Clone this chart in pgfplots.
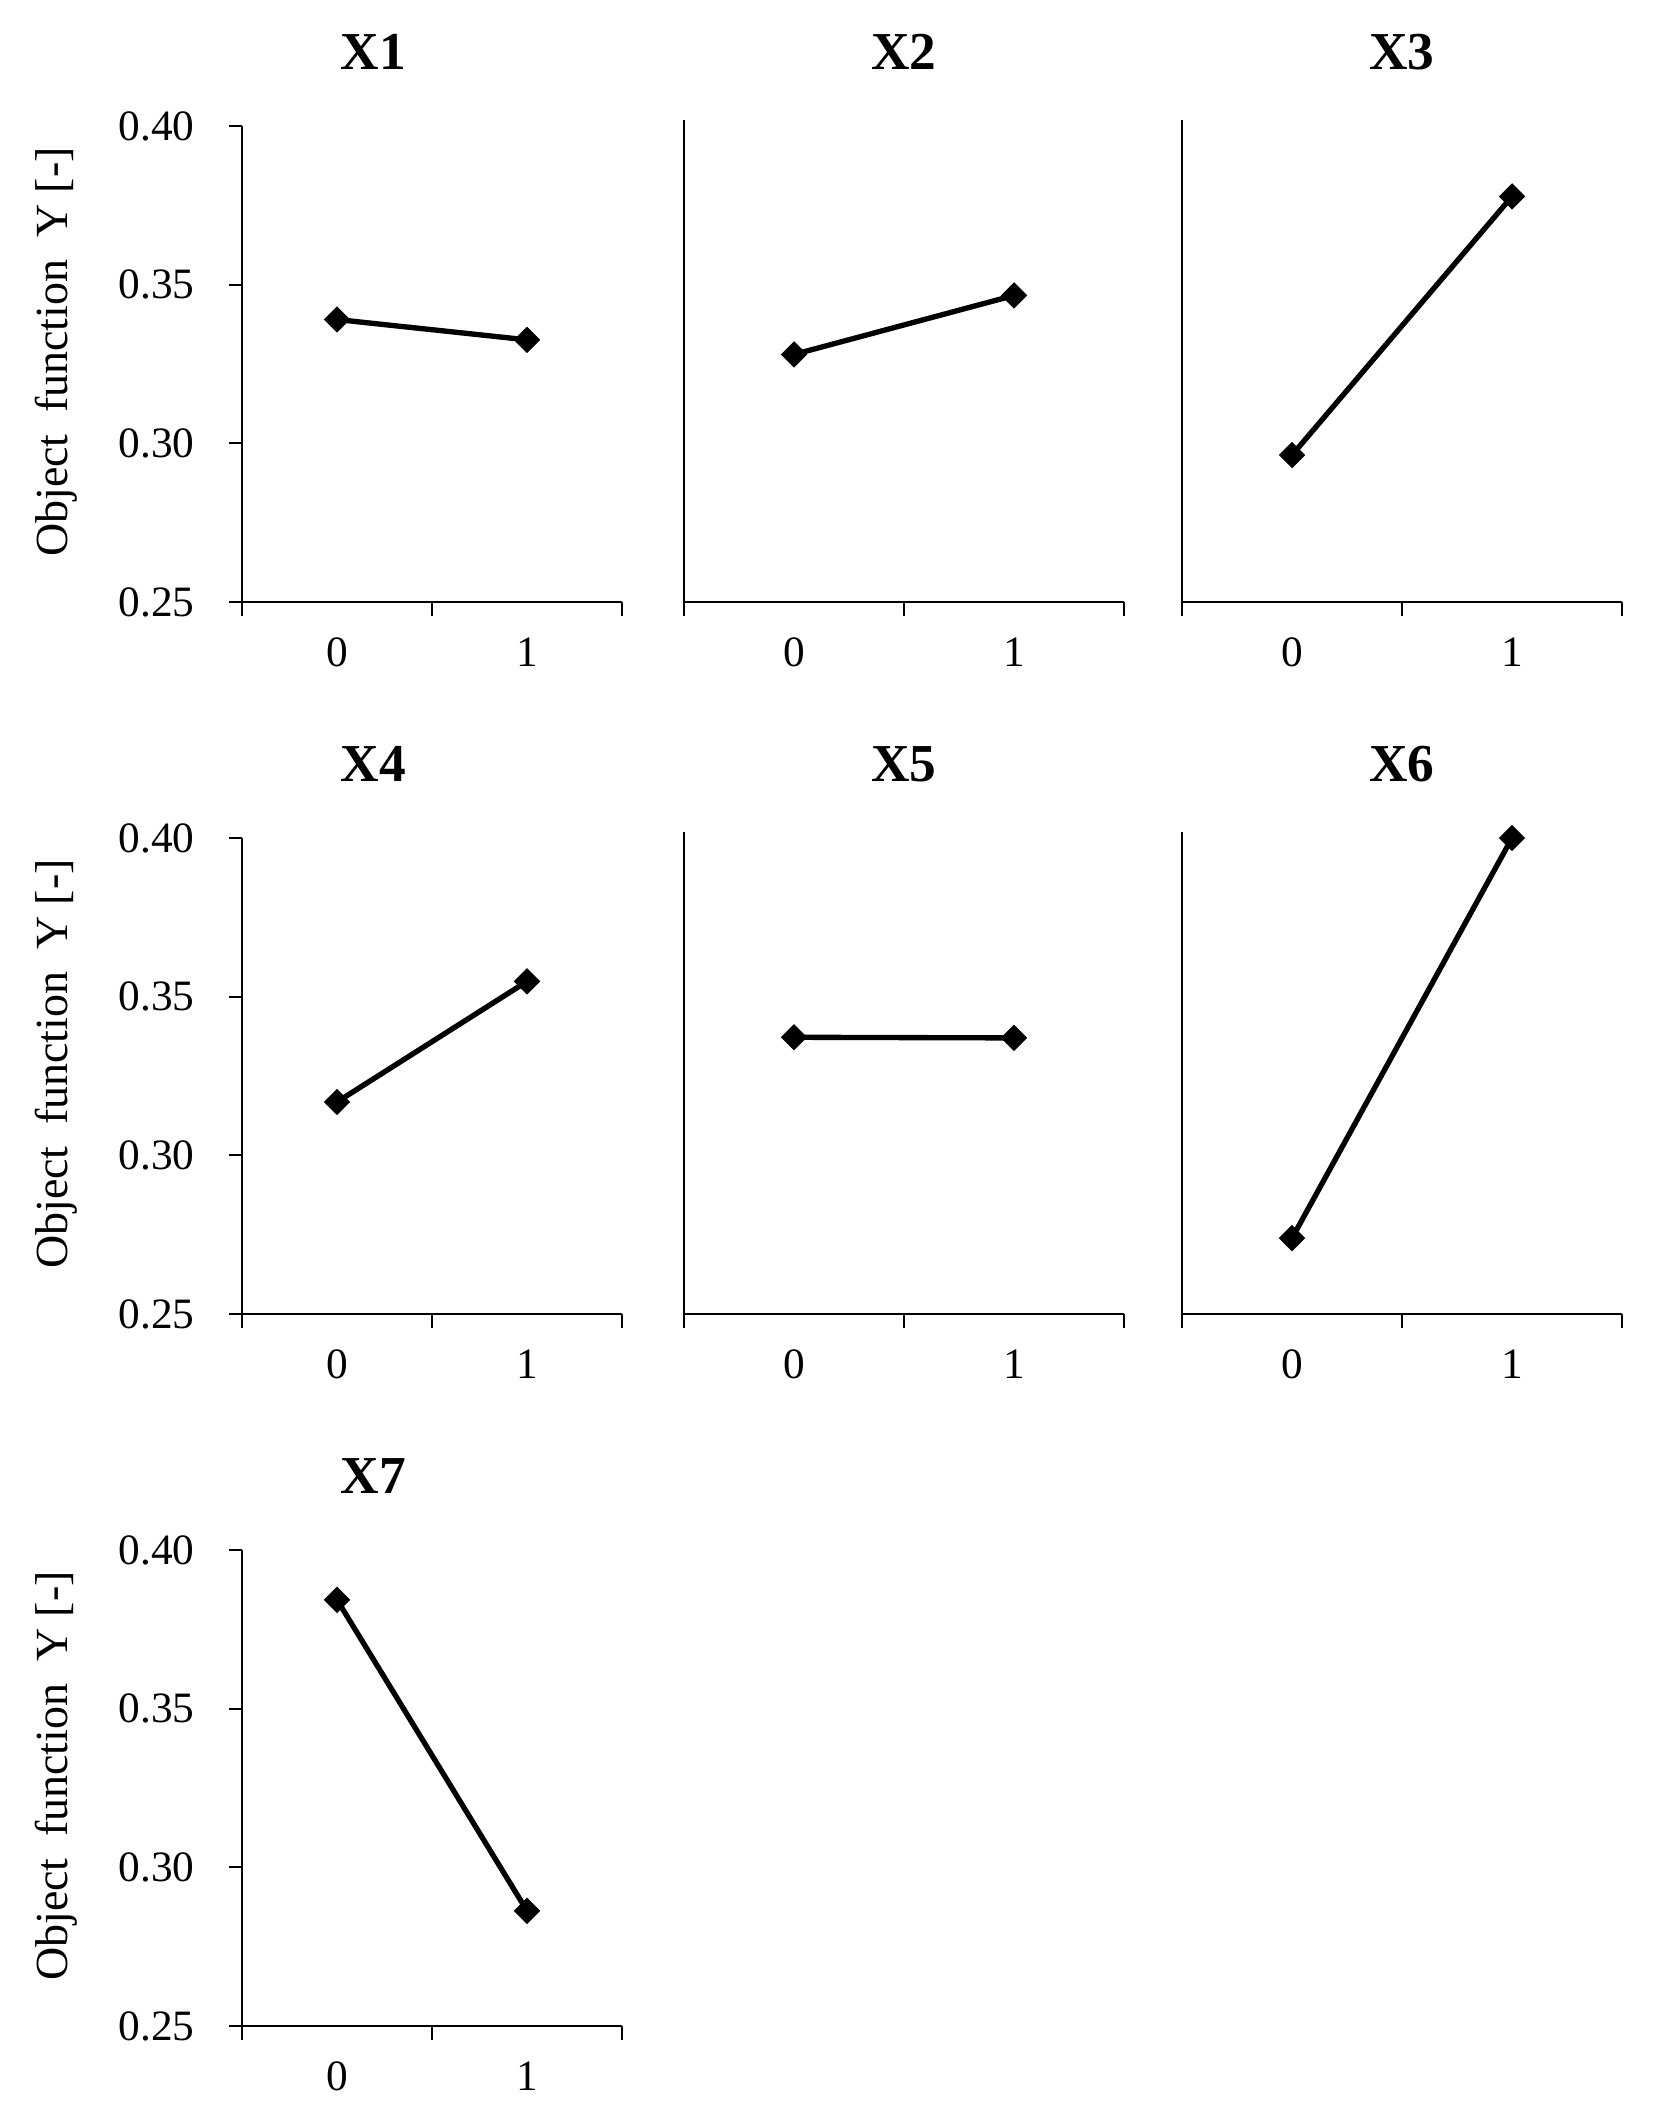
\documentclass[border=0pt]{standalone}
\usepackage{fontspec}
\setmainfont{Liberation Serif}
\usepackage{pgfplots}
\pgfplotsset{compat=1.18}

% 1 px of the reference = 0.3pt
\pgfplotsset{
  panel/.style={
    scale only axis, axis lines*=left,
    height=142.8pt,
    xmin=-0.5, xmax=1.5, ymin=0.25, ymax=0.40,
    xtick={0,1}, xticklabels={0,1},
    minor xtick={-0.5,0.5,1.5},
    tick align=outside,
    major tick length=3.75pt, minor tick length=4.2pt,
    major x tick style={draw=none},
    every tick/.style={black, line width=0.6pt},
    axis line style={line width=0.6pt},
    tick label style={font=\fontsize{13}{15}\selectfont},
    xticklabel style={yshift=-3.5pt},
    yticklabel style={xshift=-7pt},
    title style={font=\bfseries\fontsize{16}{18}\selectfont,
      anchor=base, at={(axis description cs:0.5,1)}, yshift=10.8pt},
  },
  ylab/.style={
    ytick={0.25,0.30,0.35,0.40}, yticklabels={0.25,0.30,0.35,0.40},
    ylabel={Object\hspace{3pt} function\hspace{3pt} Y [-]},
    ylabel style={font=\fontsize{13.8}{16}\selectfont,
      at={(axis description cs:-0.4605,0.525)}, anchor=base},
    width=114pt,
    title style={at={(axis description cs:0.345,1)}},
  },
  nolab/.style={
    ytick=\empty, ymax=0.4019, height=144.6pt, width=132pt,
    title style={yshift=-1.8pt},
  },
  series/.style={black, line width=1.6pt, mark=square*, mark size=2pt,
    mark options={rotate=45, solid}},
}

\begin{document}
\begin{tikzpicture}
\useasboundingbox (0,0) rectangle (496.5pt,638.4pt);

% row 1
\begin{axis}[panel, ylab, at={(72.6pt,457.8pt)}, anchor=south west, title={X1}]
\addplot[series] coordinates {(0,0.3390) (1,0.3326)};
\end{axis}
\begin{axis}[panel, nolab, at={(205.2pt,457.8pt)}, anchor=south west, title={X2}]
\addplot[series] coordinates {(0,0.3280) (1,0.3466)};
\end{axis}
\begin{axis}[panel, nolab, at={(354.6pt,457.8pt)}, anchor=south west, title={X3}]
\addplot[series] coordinates {(0,0.2963) (1,0.3778)};
\end{axis}

% row 2
\begin{axis}[panel, ylab, at={(72.6pt,244.2pt)}, anchor=south west, title={X4}]
\addplot[series] coordinates {(0,0.3168) (1,0.3548)};
\end{axis}
\begin{axis}[panel, nolab, at={(205.2pt,244.2pt)}, anchor=south west, title={X5}]
\addplot[series] coordinates {(0,0.3372) (1,0.3370)};
\end{axis}
\begin{axis}[panel, nolab, at={(354.6pt,244.2pt)}, anchor=south west, title={X6}]
\addplot[series] coordinates {(0,0.2739) (1,0.4000)};
\end{axis}

% row 3
\begin{axis}[panel, ylab, at={(72.6pt,30.6pt)}, anchor=south west, title={X7}]
\addplot[series] coordinates {(0,0.3843) (1,0.2863)};
\end{axis}
\end{tikzpicture}
\end{document}
